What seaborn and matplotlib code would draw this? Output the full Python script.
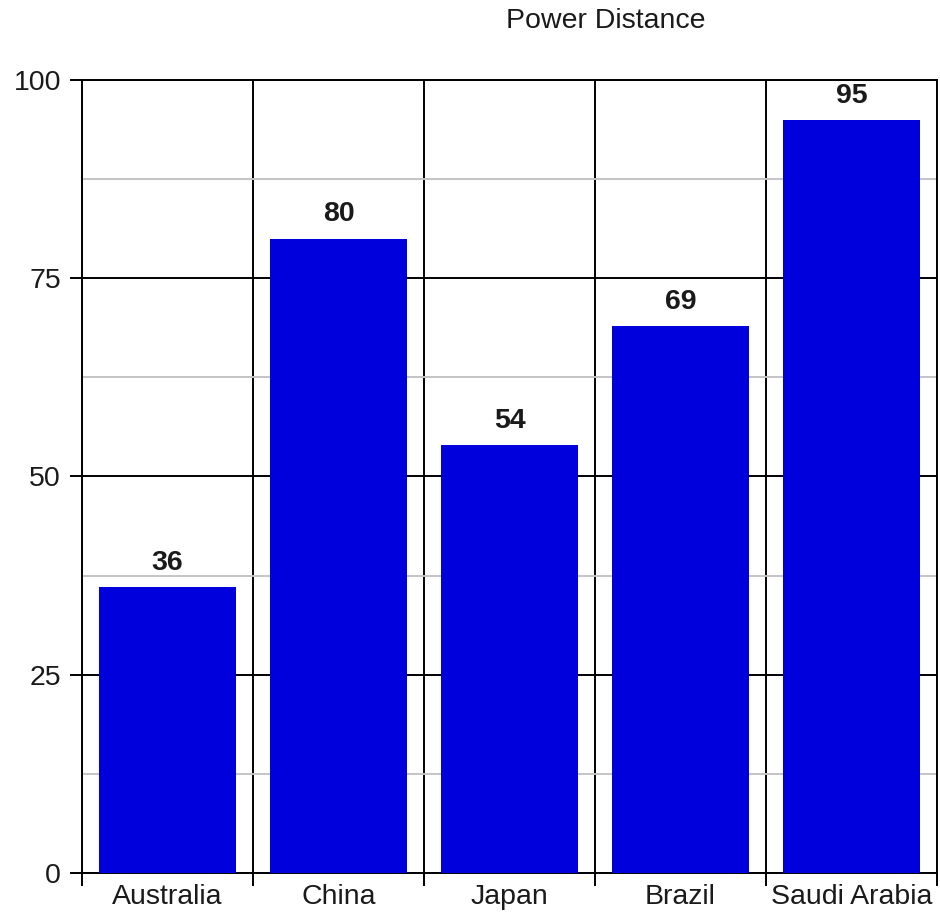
import matplotlib
matplotlib.use("Agg")
import matplotlib.pyplot as plt
import numpy as np
import seaborn as sns
from matplotlib.ticker import MultipleLocator, FixedLocator, NullFormatter

countries = ["Australia", "China", "Japan", "Brazil", "Saudi Arabia"]
power_distance = [36, 80, 54, 69, 95]
title = "Power Distance"

sns.set_style("white")
plt.rcParams["font.family"] = ["Liberation Sans", "DejaVu Sans"]

fig = plt.figure(figsize=(9.4, 9.14), dpi=100)
ax = fig.add_axes([0.0872, 0.0449, 0.9096, 0.8676])

sns.barplot(x=countries, y=power_distance, color="#0000DD", saturation=1,
            width=0.8, linewidth=0, ax=ax, zorder=3)

ax.set_xlim(-0.5, len(countries) - 0.5)
ax.set_ylim(0, 100)
ax.set_xlabel("")
ax.set_ylabel("")

# y: black major grid every 25, gray minor grid between
ax.yaxis.set_major_locator(MultipleLocator(25))
ax.yaxis.set_minor_locator(MultipleLocator(12.5))
ax.grid(which="major", axis="y", color="black", linewidth=1.4, zorder=1)
ax.grid(which="minor", axis="y", color="#c4c4c4", linewidth=1.4, zorder=0)

# x: labels centred, black lines at category boundaries
ax.xaxis.set_minor_locator(FixedLocator(np.arange(-0.5, len(countries), 1.0)))
ax.xaxis.set_minor_formatter(NullFormatter())
ax.grid(which="minor", axis="x", color="black", linewidth=1.4, zorder=1)
ax.set_axisbelow(True)

ax.tick_params(axis="x", which="major", length=0, pad=8, labelsize=20.5,
               colors="#1a1a1a")
ax.tick_params(axis="x", which="minor", length=9.5, width=1.4, color="black",
               bottom=True)
ax.tick_params(axis="y", which="major", length=9, width=1.4, pad=6,
               labelsize=20.5, left=True, colors="black")
ax.tick_params(axis="y", which="major", labelcolor="#1a1a1a")
ax.tick_params(axis="y", which="minor", length=0)

for spine in ax.spines.values():
    spine.set_visible(True)
    spine.set_color("black")
    spine.set_linewidth(1.4)

for container in ax.containers:
    ax.bar_label(container, padding=8, fontsize=20.5, fontweight="bold",
                 color="#1a1a1a")

fig.text(0.644, 1 - 21 / 914, title, ha="center", va="center",
         fontsize=20.5, color="#1a1a1a")

fig.savefig("out.png", dpi=100)
